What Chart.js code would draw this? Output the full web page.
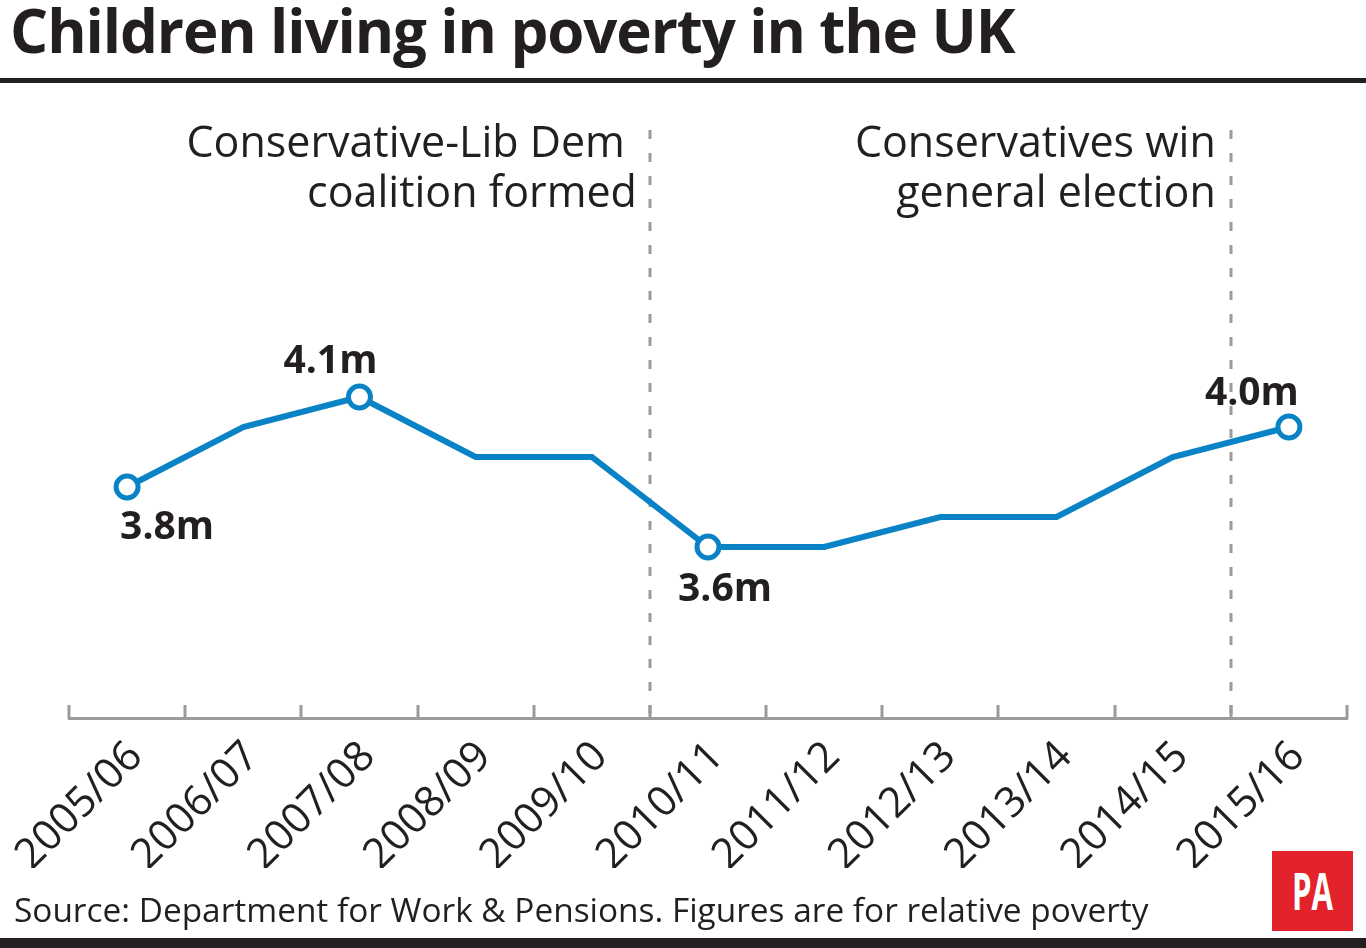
<!DOCTYPE html>
<html><head><meta charset="utf-8">
<script src="https://cdn.jsdelivr.net/npm/chart.js@4.4.1/dist/chart.umd.min.js"></script>
<style>
html,body{margin:0;padding:0;background:#fff;}
#wrap{position:relative;width:1366px;height:948px;overflow:hidden;background:#fff;font-family:"Open Sans",sans-serif;color:#231f20;}
#title{position:absolute;left:10px;top:0px;font-size:60px;font-weight:700;letter-spacing:-1.1px;line-height:60px;white-space:nowrap;z-index:2;}
#rule{position:absolute;left:0;top:78px;width:1366px;height:5px;background:#231f20;z-index:2;}
#source{position:absolute;left:14px;top:893px;font-size:33.4px;line-height:33px;white-space:nowrap;z-index:2;}
#logo{position:absolute;left:1272px;top:851px;width:81px;height:80px;background:#e3232b;z-index:2;color:#fff;}
#logo span{position:absolute;left:0;top:9px;width:81px;text-align:center;font-size:52px;line-height:60px;font-weight:700;transform:scaleX(0.6);}
#bottom{position:absolute;left:0;top:938px;width:1366px;height:10px;background:#231f20;z-index:2;}
canvas{position:absolute;left:0;top:0;z-index:1;}
</style>
</head><body>
<div id="wrap">
<div id="title">Children living in poverty in the UK</div>
<div id="rule"></div>
<canvas id="c" width="1366" height="948"></canvas>
<div id="source">Source: Department for Work &amp; Pensions. Figures are for relative poverty</div>
<div id="logo"><span>PA</span></div>
<div id="bottom"></div>
</div>
<script>
// ---- data ----
const categories = ['2005/06','2006/07','2007/08','2008/09','2009/10','2010/11','2011/12','2012/13','2013/14','2014/15','2015/16'];
const childrenInPovertyMillions = [3.8, 4.0, 4.1, 3.9, 3.9, 3.6, 3.6, 3.7, 3.7, 3.9, 4.0];
const labelledPoints = [0, 2, 5, 10];
const eventAfterIndex = [4, 9];
const eventText = [['Conservative-Lib Dem', 'coalition formed'], ['Conservatives win', 'general election']];
const yMin = 3.03, yMax = 5.0;

// ---- styles ----
const BLUE = '#0a83c6', INK = '#231f20', GREY = '#9b9b9b';
const labelOffsets = {0: [40, 52], 2: [-29, -24], 5: [17, 54], 10: [-37, -22]};
const eventTextDx = [[-25, -13], [-15, -15]];

const decorPlugin = {
  id: 'decor',
  beforeDatasetsDraw(chart) {
    const {ctx, chartArea} = chart;
    const x = chart.scales.x;
    ctx.save();
    // upward tick marks at category boundaries
    ctx.strokeStyle = GREY; ctx.lineWidth = 3; ctx.lineCap = 'butt';
    for (let i = 0; i <= categories.length; i++) {
      const px = Math.round(x.getPixelForValue(i - 0.5));
      ctx.beginPath(); ctx.moveTo(px, chartArea.bottom + 1); ctx.lineTo(px, chartArea.bottom - 13); ctx.stroke();
    }
    // event dashed lines + text
    ctx.setLineDash([9, 14]);
    ctx.lineWidth = 3;
    eventAfterIndex.forEach((idx, k) => {
      const px = Math.round(x.getPixelForValue(idx + 0.5));
      ctx.beginPath(); ctx.moveTo(px, chartArea.top + 3); ctx.lineTo(px, chartArea.bottom); ctx.stroke();
    });
    ctx.setLineDash([]);
    ctx.fillStyle = INK;
    ctx.font = '43px "Open Sans", sans-serif';
    ctx.textAlign = 'right'; ctx.textBaseline = 'alphabetic';
    eventAfterIndex.forEach((idx, k) => {
      const px = x.getPixelForValue(idx + 0.5);
      eventText[k].forEach((line, j) => {
        ctx.fillText(line, px + eventTextDx[k][j], chartArea.top + 30 + j * 50);
      });
    });
    ctx.restore();
  },
  afterDatasetsDraw(chart) {
    const {ctx} = chart;
    const meta = chart.getDatasetMeta(0);
    ctx.save();
    ctx.fillStyle = INK;
    ctx.font = 'bold 39px "Open Sans", sans-serif';
    ctx.textAlign = 'center'; ctx.textBaseline = 'alphabetic';
    labelledPoints.forEach(i => {
      const el = meta.data[i];
      const off = labelOffsets[i];
      ctx.fillText(childrenInPovertyMillions[i].toFixed(1) + 'm', el.x + off[0], el.y + off[1]);
    });
    ctx.restore();
  }
};

new Chart(document.getElementById('c'), {
  type: 'line',
  data: {
    labels: categories,
    datasets: [{
      data: childrenInPovertyMillions,
      borderColor: BLUE,
      borderWidth: 6,
      tension: 0,
      fill: false,
      clip: false,
      pointRadius: ctx => labelledPoints.includes(ctx.dataIndex) ? 11 : 0,
      pointHoverRadius: ctx => labelledPoints.includes(ctx.dataIndex) ? 11 : 0,
      pointBackgroundColor: '#fff',
      pointBorderColor: BLUE,
      pointBorderWidth: 5
    }]
  },
  options: {
    responsive: false,
    animation: false,
    events: [],
    devicePixelRatio: 1,
    layout: {padding: {top: 127, left: 69, right: 19, bottom: 80}},
    plugins: {legend: {display: false}, tooltip: {enabled: false}, title: {display: false}},
    scales: {
      x: {
        type: 'category',
        offset: true,
        grid: {display: true, drawOnChartArea: false, drawTicks: false, offset: true},
        border: {display: true, color: GREY, width: 3},
        ticks: {
          autoSkip: false, maxRotation: 45, minRotation: 45,
          color: INK, padding: 14, labelOffset: 9,
          font: {family: '"Open Sans", sans-serif', size: 42}
        },
        afterFit(scale) { scale.height = 150; scale.paddingLeft = 0; scale.paddingRight = 0; }
      },
      y: {display: false, min: yMin, max: yMax}
    }
  },
  plugins: [decorPlugin]
});
</script>
</body></html>
